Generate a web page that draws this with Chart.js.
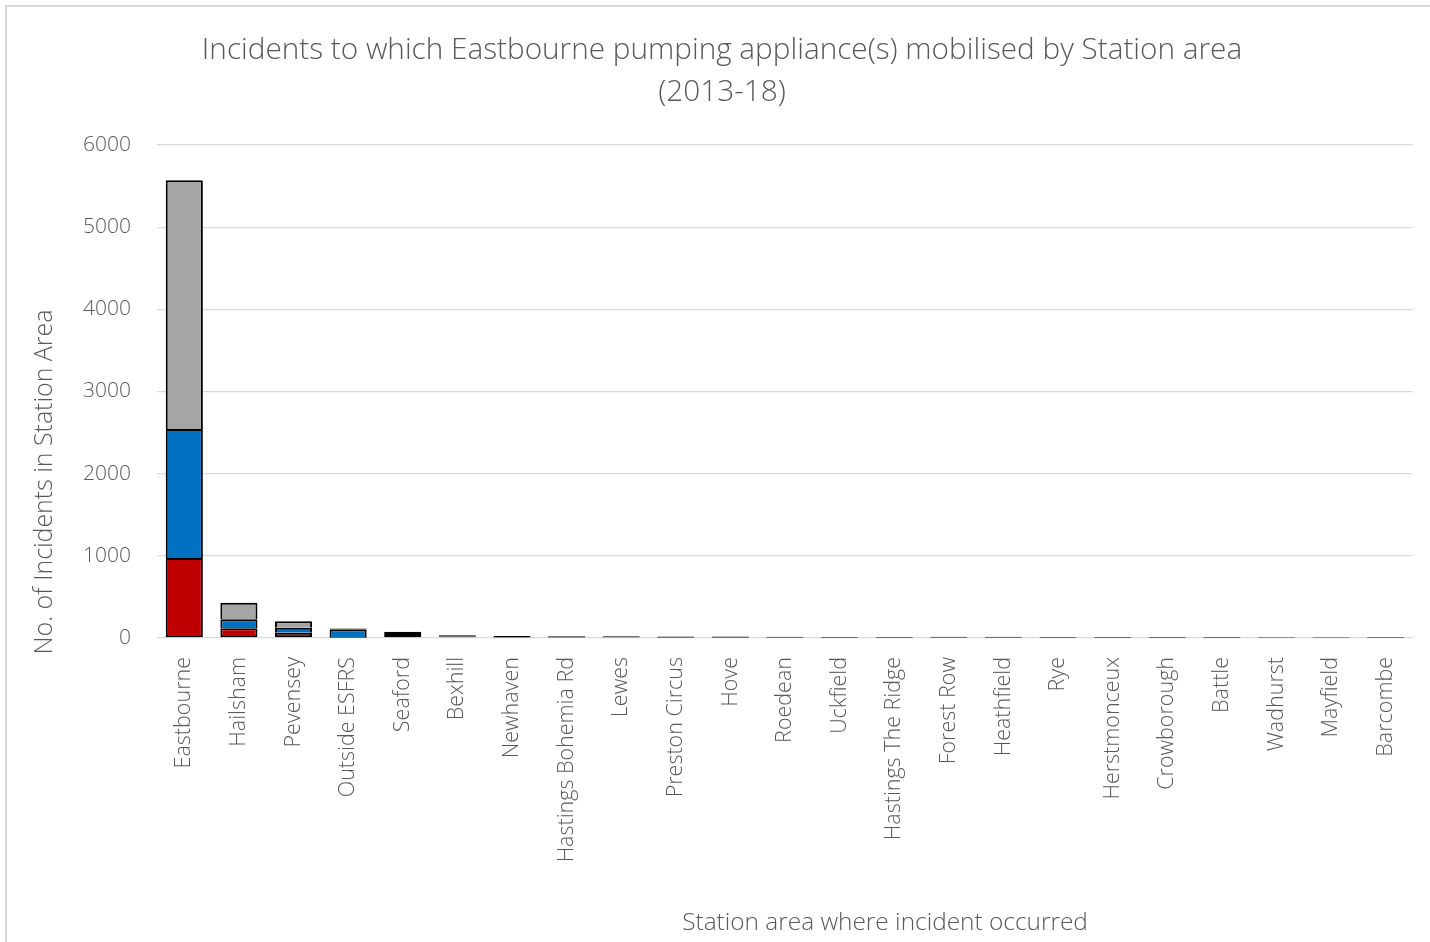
<!DOCTYPE html>
<html>
<head>
<meta charset="utf-8">
<script src="https://cdn.jsdelivr.net/npm/chart.js@4"></script>
<style>
html,body{margin:0;padding:0;background:#fff;}
#wrap{width:1430px;height:942px;position:relative;}
</style>
</head>
<body>
<div id="wrap"><canvas id="c" width="1430" height="942"></canvas></div>
<script>
const categories = ["Eastbourne","Hailsham","Pevensey","Outside ESFRS","Seaford","Bexhill","Newhaven","Hastings Bohemia Rd","Lewes","Preston Circus","Hove","Roedean","Uckfield","Hastings The Ridge","Forest Row","Heathfield","Rye","Herstmonceux","Crowborough","Battle","Wadhurst","Mayfield","Barcombe"];
const redValues  = [975, 118, 64, 2, 25, 10, 6, 5, 5, 4, 4, 3, 3, 3, 3, 3, 3, 3, 3, 3, 2, 2, 2];
const blueValues = [1570, 110, 60, 105, 25, 10, 6, 6, 5, 5, 4, 4, 3, 3, 4, 4, 3, 3, 3, 3, 3, 3, 2];
const greyValues = [3025, 200, 80, 8, 25, 14, 12, 11, 10, 9, 9, 7, 7, 7, 7, 7, 7, 7, 6, 6, 5, 5, 5];
const yTicks = [0, 1000, 2000, 3000, 4000, 5000, 6000];
const titleLines = ["Incidents to which Eastbourne pumping appliance(s) mobilised by Station area", "(2013-18)"];
const yTitle = "No. of Incidents in Station Area";
const xTitle = "Station area where incident occurred";

const FONT = "'Open Sans', 'Segoe UI', sans-serif";
const TXT = "#595959";

function fitSize(ctx, text, width, weight) {
  ctx.font = weight + " 100px " + FONT;
  const w = ctx.measureText(text).width;
  return 100 * width / w;
}

const textPlugin = {
  id: 'texts',
  beforeDraw(chart) {
    const ctx = chart.ctx;
    ctx.save();
    ctx.fillStyle = "#fff";
    ctx.fillRect(0, 0, chart.width, chart.height);
    ctx.strokeStyle = "#d9d9d9";
    ctx.lineWidth = 2;
    ctx.beginPath();
    ctx.moveTo(6, 942); ctx.lineTo(6, 6); ctx.lineTo(1430, 6);
    ctx.stroke();
    ctx.restore();
  },
  afterDraw(chart) {
    const ctx = chart.ctx;
    ctx.save();
    ctx.fillStyle = TXT;
    ctx.textAlign = "center";
    ctx.textBaseline = "middle";
    const s1 = fitSize(ctx, titleLines[0], 1041, 300);
    ctx.font = "300 " + s1 + "px " + FONT;
    ctx.fillText(titleLines[0], 722, 51);
    ctx.fillText(titleLines[1], 722, 93);
    const s2 = fitSize(ctx, xTitle, 406, 300);
    ctx.font = "300 " + s2 + "px " + FONT;
    ctx.fillText(xTitle, 885, 923);
    const s3 = fitSize(ctx, yTitle, 345, 300);
    ctx.font = "300 " + s3 + "px " + FONT;
    ctx.translate(45, 482);
    ctx.rotate(-Math.PI / 2);
    ctx.fillText(yTitle, 0, 0);
    ctx.restore();
  }
};

function skip(c) {
  const v = c.raw;
  if (c.datasetIndex === 0 || v < 50) return false;
  return 'start';
}

const common = { borderColor: "#000", borderWidth: 2, borderSkipped: skip, barPercentage: 0.68, categoryPercentage: 1.0 };

new Chart(document.getElementById('c'), {
  type: 'bar',
  data: {
    labels: categories,
    datasets: [
      Object.assign({ label: "Red", data: redValues, backgroundColor: "#C00000" }, common),
      Object.assign({ label: "Blue", data: blueValues, backgroundColor: "#0070C0" }, common),
      Object.assign({ label: "Grey", data: greyValues, backgroundColor: "#A5A5A5" }, common)
    ]
  },
  options: {
    responsive: false,
    animation: false,
    devicePixelRatio: 1,
    layout: { padding: { left: 0, right: 17, top: 145, bottom: 0 } },
    plugins: { legend: { display: false }, title: { display: false }, tooltip: { enabled: false } },
    scales: {
      x: {
        stacked: true,
        grid: { display: false },
        border: { display: false },
        ticks: {
          minRotation: 90, maxRotation: 90, autoSkip: false,
          color: TXT, padding: 11,
          font: { family: FONT, size: 21.5, weight: 300 }
        },
        afterFit(scale) { scale.height = 942 - 638; }
      },
      y: {
        stacked: true,
        min: 0, max: 6000,
        afterBuildTicks(scale) { scale.ticks = yTicks.map(v => ({ value: v })); },
        grid: { color: "#d9d9d9", lineWidth: 1.3, drawTicks: false },
        border: { display: false },
        ticks: {
          color: TXT, padding: 26,
          font: { family: FONT, size: 21, weight: 300 },
          callback: (v) => String(v)
        },
        afterFit(scale) { scale.width = 157; }
      }
    }
  },
  plugins: [textPlugin]
});
</script>
</body>
</html>
